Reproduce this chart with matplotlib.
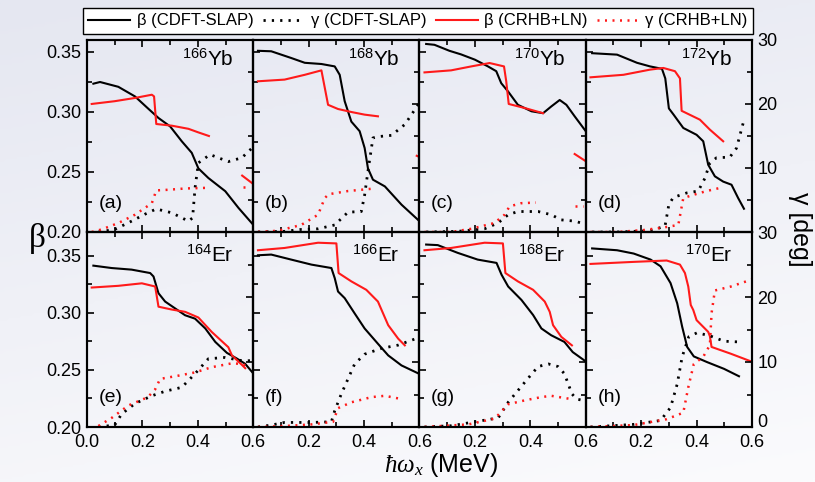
import numpy as np
import matplotlib
matplotlib.use('Agg')
import matplotlib.pyplot as plt
from matplotlib.ticker import MultipleLocator
from matplotlib.colors import LinearSegmentedColormap

plt.rcParams['font.family'] = ['Liberation Sans', 'DejaVu Sans']
plt.rcParams['mathtext.fontset'] = 'custom'
plt.rcParams['mathtext.rm'] = 'Liberation Sans'
plt.rcParams['mathtext.it'] = 'Liberation Serif:italic'

# (omega [MeV], value) pairs; beta on the left axis, gamma [deg] on the right axis
# --- 166Yb ---
yb166_b_slap = np.array([[0.023, 0.3236], [0.047, 0.325], [0.113, 0.321], [0.173, 0.313], [0.22, 0.303],
                         [0.258, 0.295], [0.30, 0.288], [0.342, 0.2756], [0.378, 0.266], [0.402, 0.253],
                         [0.438, 0.245], [0.499, 0.234], [0.547, 0.220], [0.60, 0.206]])
yb166_g_slap = np.array([[0.041, 0.0], [0.10, 0.4], [0.161, 1.7], [0.21, 2.8], [0.25, 3.6], [0.306, 3.0],
                         [0.366, 1.7], [0.381, 2.2], [0.39, 6.9], [0.402, 10.8], [0.444, 12.1], [0.51, 11.0],
                         [0.559, 11.6], [0.60, 13.3]])
yb166_b_ln = np.array([[0.017, 0.3067], [0.10, 0.309], [0.173, 0.3117], [0.234, 0.3144], [0.242, 0.313],
                       [0.25, 0.290], [0.306, 0.2886], [0.366, 0.286], [0.402, 0.283], [0.44, 0.280]])
yb166_g_ln = np.array([[0.017, 0.0], [0.053, 0.4], [0.113, 1.4], [0.173, 2.7], [0.234, 4.5], [0.25, 6.5],
                       [0.294, 6.6], [0.354, 6.8], [0.433, 6.9]])
yb166_b_ln2 = np.array([[0.56, 0.247], [0.60, 0.240]])
yb166_g_ln2 = np.array([[0.562, 7.0], [0.59, 7.0]])

# --- 168Yb ---
yb168_b_slap = np.array([[0.017, 0.351], [0.065, 0.3506], [0.137, 0.345], [0.186, 0.341], [0.246, 0.340],
                         [0.294, 0.338], [0.312, 0.331], [0.33, 0.309], [0.354, 0.292], [0.384, 0.284],
                         [0.402, 0.270], [0.414, 0.253], [0.432, 0.2436], [0.475, 0.238], [0.535, 0.2228],
                         [0.60, 0.209]])
yb168_g_slap = np.array([[0.017, 0.0], [0.113, 0.1], [0.173, 0.4], [0.234, 0.5], [0.294, 1.1], [0.342, 3.1],
                         [0.39, 3.2], [0.402, 5.8], [0.414, 9.5], [0.432, 14.7], [0.45, 14.9], [0.499, 15.1],
                         [0.547, 16.8], [0.60, 20.2]])
yb168_b_ln = np.array([[0.017, 0.3256], [0.113, 0.327], [0.186, 0.331], [0.246, 0.3347], [0.27, 0.306],
                       [0.306, 0.3025], [0.354, 0.300], [0.402, 0.2978], [0.45, 0.2964]])
yb168_g_ln = np.array([[0.017, 0.0], [0.09, 0.2], [0.173, 1.1], [0.234, 2.7], [0.258, 5.3], [0.272, 5.9],
                       [0.342, 6.4], [0.438, 6.8]])
yb168_b_ln2 = np.array([[0.59, 0.2635], [0.60, 0.2625]])

# --- 170Yb ---
yb170_b_slap = np.array([[0.024, 0.3567], [0.054, 0.356], [0.108, 0.351], [0.15, 0.348], [0.20, 0.3436],
                         [0.247, 0.338], [0.277, 0.334], [0.295, 0.324], [0.32, 0.317], [0.355, 0.306],
                         [0.404, 0.3006], [0.446, 0.299], [0.476, 0.3047], [0.506, 0.310], [0.53, 0.306],
                         [0.56, 0.2964], [0.60, 0.284]])
yb170_g_slap = np.array([[0.024, 0.0], [0.138, 0.1], [0.235, 0.5], [0.283, 1.4], [0.32, 2.7], [0.355, 3.2],
                         [0.428, 3.2], [0.476, 2.7], [0.51, 1.9], [0.56, 1.7], [0.60, 1.2]])
yb170_b_ln = np.array([[0.018, 0.333], [0.114, 0.3347], [0.187, 0.338], [0.253, 0.3408], [0.305, 0.338],
                       [0.313, 0.3256], [0.322, 0.3067], [0.38, 0.3033], [0.446, 0.299]])
yb170_g_ln = np.array([[0.018, 0.0], [0.114, 0.0], [0.187, 0.5], [0.27, 1.4], [0.307, 2.7], [0.325, 4.0],
                       [0.367, 4.5], [0.42, 4.6]])
yb170_b_ln2 = np.array([[0.56, 0.265], [0.60, 0.259]])
yb170_g_ln2 = np.array([[0.562, 4.1], [0.59, 4.1]])

# --- 172Yb ---
yb172_b_slap = np.array([[0.023, 0.349], [0.113, 0.3478], [0.185, 0.341], [0.232, 0.338], [0.275, 0.336],
                         [0.287, 0.328], [0.30, 0.303], [0.317, 0.2978], [0.352, 0.2867], [0.40, 0.281],
                         [0.424, 0.2756], [0.442, 0.256], [0.466, 0.2464], [0.496, 0.242], [0.526, 0.2394],
                         [0.55, 0.2283], [0.571, 0.2194]])
yb172_g_slap = np.array([[0.023, 0.0], [0.113, 0.0], [0.232, 0.2], [0.286, 0.9], [0.30, 4.3], [0.316, 5.4],
                         [0.364, 6.1], [0.406, 6.4], [0.43, 8.4], [0.448, 10.8], [0.472, 11.6], [0.52, 11.7],
                         [0.544, 13.1], [0.568, 17.0]])
yb172_b_ln = np.array([[0.017, 0.3289], [0.136, 0.331], [0.232, 0.3353], [0.28, 0.3367], [0.322, 0.334],
                       [0.34, 0.328], [0.346, 0.301], [0.412, 0.2936], [0.448, 0.2853], [0.496, 0.2756]])
yb172_g_ln = np.array([[0.017, 0.0], [0.113, 0.0], [0.208, 0.3], [0.28, 0.7], [0.334, 1.1], [0.343, 3.2],
                       [0.352, 5.3], [0.388, 5.8], [0.436, 6.4], [0.496, 7.0]])

# --- 164Er ---
er164_b_slap = np.array([[0.023, 0.3415], [0.089, 0.3394], [0.161, 0.338], [0.228, 0.335], [0.24, 0.332],
                         [0.258, 0.3173], [0.282, 0.310], [0.318, 0.304], [0.354, 0.298], [0.39, 0.295],
                         [0.427, 0.2864], [0.463, 0.2746], [0.505, 0.265], [0.541, 0.260], [0.571, 0.2554],
                         [0.60, 0.247]])
er164_g_slap = np.array([[0.041, 0.0], [0.10, 0.3], [0.125, 2.0], [0.173, 3.6], [0.234, 4.8], [0.282, 5.5],
                         [0.342, 6.1], [0.39, 8.2], [0.438, 10.5], [0.499, 10.7], [0.559, 10.2], [0.60, 10.2]])
er164_b_ln = np.array([[0.017, 0.3223], [0.113, 0.3238], [0.198, 0.326], [0.246, 0.3232], [0.258, 0.3055],
                       [0.306, 0.303], [0.354, 0.301], [0.402, 0.296], [0.45, 0.2834], [0.51, 0.270],
                       [0.523, 0.2628], [0.559, 0.2545], [0.571, 0.2516]])
er164_g_ln = np.array([[0.041, 0.15], [0.089, 1.4], [0.149, 3.3], [0.22, 4.6], [0.246, 5.8], [0.264, 7.4],
                       [0.33, 7.9], [0.39, 8.4], [0.45, 9.2], [0.523, 9.8], [0.559, 9.7], [0.583, 9.3]])

# --- 166Er ---
er166_b_slap = np.array([[0.017, 0.3506], [0.065, 0.3512], [0.137, 0.3468], [0.21, 0.3424], [0.282, 0.3394],
                         [0.294, 0.3306], [0.306, 0.3188], [0.33, 0.313], [0.366, 0.2996], [0.402, 0.2864],
                         [0.45, 0.273], [0.487, 0.2628], [0.535, 0.254], [0.60, 0.2465]])
er166_g_slap = np.array([[0.017, 0.0], [0.065, 0.3], [0.113, 0.7], [0.21, 0.7], [0.282, 0.8], [0.294, 2.5],
                         [0.318, 5.1], [0.342, 7.4], [0.366, 9.7], [0.402, 11.2], [0.463, 12.1], [0.523, 12.6],
                         [0.60, 13.8]])
er166_b_ln = np.array([[0.017, 0.355], [0.113, 0.357], [0.234, 0.3616], [0.30, 0.361], [0.308, 0.335],
                       [0.354, 0.3277], [0.408, 0.3203], [0.45, 0.310], [0.487, 0.2893], [0.523, 0.2775],
                       [0.547, 0.2716]])
er166_g_ln = np.array([[0.017, 0.0], [0.113, 0.15], [0.21, 0.4], [0.288, 0.8], [0.306, 2.9], [0.354, 3.8],
                       [0.427, 4.6], [0.475, 4.8], [0.535, 4.3]])

# --- 168Er ---
er168_b_slap = np.array([[0.024, 0.360], [0.066, 0.3595], [0.138, 0.3527], [0.21, 0.3468], [0.278, 0.3439],
                         [0.296, 0.3336], [0.32, 0.3232], [0.368, 0.3114], [0.41, 0.2982], [0.44, 0.2864],
                         [0.475, 0.2805], [0.523, 0.2746], [0.553, 0.2657], [0.60, 0.2575]])
er168_g_slap = np.array([[0.018, 0.0], [0.116, 0.2], [0.20, 0.8], [0.284, 1.4], [0.32, 3.8], [0.355, 5.6],
                         [0.39, 7.4], [0.428, 9.3], [0.465, 9.7], [0.50, 9.3], [0.523, 8.2], [0.55, 5.1],
                         [0.567, 4.3], [0.60, 4.0]])
er168_b_ln = np.array([[0.018, 0.355], [0.114, 0.357], [0.235, 0.3616], [0.301, 0.361], [0.31, 0.335],
                       [0.355, 0.3277], [0.41, 0.3203], [0.452, 0.310], [0.47, 0.301], [0.482, 0.2893],
                       [0.512, 0.279], [0.55, 0.2716]])
er168_g_ln = np.array([[0.018, 0.0], [0.176, 0.4], [0.272, 1.3], [0.32, 3.5], [0.38, 4.1], [0.44, 4.6],
                       [0.475, 4.8], [0.547, 4.3]])

# --- 170Er ---
er170_b_slap = np.array([[0.023, 0.3566], [0.113, 0.355], [0.173, 0.3521], [0.234, 0.3468], [0.27, 0.3409],
                         [0.306, 0.3262], [0.33, 0.3085], [0.348, 0.2879], [0.366, 0.2702], [0.39, 0.2619],
                         [0.438, 0.2569], [0.499, 0.251], [0.553, 0.2445]])
er170_g_slap = np.array([[0.017, 0.0], [0.173, 0.4], [0.27, 1.0], [0.306, 3.0], [0.33, 6.6], [0.348, 10.8],
                         [0.372, 13.9], [0.402, 14.5], [0.45, 14.0], [0.499, 13.2], [0.547, 13.1]])
er170_b_ln = np.array([[0.017, 0.343], [0.173, 0.3448], [0.292, 0.346], [0.34, 0.3424], [0.358, 0.335],
                       [0.37, 0.3232], [0.379, 0.307], [0.388, 0.3026], [0.40, 0.2937], [0.442, 0.2834],
                       [0.448, 0.2796], [0.454, 0.2702], [0.523, 0.2643], [0.60, 0.2572]])
er170_g_ln = np.array([[0.017, 0.0], [0.173, 0.3], [0.292, 1.2], [0.352, 2.2], [0.37, 6.1], [0.39, 9.7],
                       [0.424, 10.8], [0.448, 12.6], [0.454, 17.5], [0.466, 21.0], [0.523, 21.6],
                       [0.60, 22.7]])

panel_tags = ['(a)', '(b)', '(c)', '(d)', '(e)', '(f)', '(g)', '(h)']
nuclei = [('166', 'Yb'), ('168', 'Yb'), ('170', 'Yb'), ('172', 'Yb'),
          ('164', 'Er'), ('166', 'Er'), ('168', 'Er'), ('170', 'Er')]
beta_slap = [yb166_b_slap, yb168_b_slap, yb170_b_slap, yb172_b_slap,
             er164_b_slap, er166_b_slap, er168_b_slap, er170_b_slap]
gamma_slap = [yb166_g_slap, yb168_g_slap, yb170_g_slap, yb172_g_slap,
              er164_g_slap, er166_g_slap, er168_g_slap, er170_g_slap]
beta_ln = [[yb166_b_ln, yb166_b_ln2], [yb168_b_ln, yb168_b_ln2], [yb170_b_ln, yb170_b_ln2], [yb172_b_ln],
           [er164_b_ln], [er166_b_ln], [er168_b_ln], [er170_b_ln]]
gamma_ln = [[yb166_g_ln, yb166_g_ln2], [yb168_g_ln], [yb170_g_ln, yb170_g_ln2], [yb172_g_ln],
            [er164_g_ln], [er166_g_ln], [er168_g_ln], [er170_g_ln]]

red = '#ff1a1a'
dots = (0, (0.8, 2.2))

fig = plt.figure(figsize=(8.15, 4.82), dpi=100)

# soft bluish backdrop
bg = fig.add_axes([0, 0, 1, 1], zorder=-10)
cmap = LinearSegmentedColormap.from_list('bg', ['#e5e7f1', '#fbfbfd'])
yy, xx = np.mgrid[0:1:200j, 0:1:200j]
bg.imshow(0.75 * yy + 0.25 * xx, cmap=cmap, aspect='auto', extent=[0, 1, 0, 1], origin='upper')
bg.axis('off')

gs = fig.add_gridspec(2, 4, left=87 / 815, right=752 / 815, top=1 - 40 / 482, bottom=1 - 427 / 482,
                      wspace=0, hspace=0, height_ratios=[192, 195])

for k in range(8):
    row, col = divmod(k, 4)
    ax = fig.add_subplot(gs[row, col])
    ax.set_facecolor('none')
    tw = ax.twinx()

    ax.plot(beta_slap[k][:, 0], beta_slap[k][:, 1], color='black', lw=1.5)
    tw.plot(gamma_slap[k][:, 0], gamma_slap[k][:, 1], color='black', lw=2.0, ls=dots)
    for seg in beta_ln[k]:
        ax.plot(seg[:, 0], seg[:, 1], color=red, lw=1.5)
    for seg in gamma_ln[k]:
        tw.plot(seg[:, 0], seg[:, 1], color=red, lw=1.8, ls=dots)

    ax.set_xlim(0, 0.6)
    ax.set_ylim(0.20, 0.36 if row == 0 else 0.371)
    tw.set_ylim(0, 30)

    ax.set_xticks([0.0, 0.2, 0.4, 0.6])
    ax.xaxis.set_minor_locator(MultipleLocator(0.1))
    ax.set_yticks([0.20, 0.25, 0.30, 0.35])
    ax.yaxis.set_minor_locator(MultipleLocator(0.025))
    tw.set_yticks([0, 10, 20, 30])
    tw.yaxis.set_minor_locator(MultipleLocator(5))

    if row == 1:
        ax.set_xticklabels(['0.0' if col == 0 else '', '0.2', '0.4', '0.6'])
    else:
        ax.set_xticklabels([])
    if col == 0:
        ax.set_yticklabels(['0.20', '0.25', '0.30', '0.35'])
    else:
        ax.set_yticklabels([])
    if col == 3:
        tw.set_yticklabels(['' if row == 0 else '0', '10', '20', '30'])
        # lift the lowest gamma label a little so it clears the 0.6 below it
        tw.get_yticklabels()[0].set_va('baseline')
    else:
        tw.set_yticklabels([])

    ax.tick_params(which='both', direction='in', top=True, right=False, width=1.2,
                   labelsize=13, pad=4)
    ax.tick_params(axis='x', pad=5)
    ax.tick_params(which='major', length=5)
    ax.tick_params(which='minor', length=3.5)
    tw.tick_params(which='both', direction='in', width=1.2, labelsize=13, pad=4)
    tw.tick_params(which='major', length=5)
    tw.tick_params(which='minor', length=3.5)
    for sp in list(ax.spines.values()) + list(tw.spines.values()):
        sp.set_linewidth(1.5)

    mass, elem = nuclei[k]
    ax.text(0.88, 0.9 if row == 0 else 0.88, r'$^{%s}$%s' % (mass, elem), transform=ax.transAxes,
            ha='right', va='center', fontsize=15)
    ax.text(0.07, 0.15, panel_tags[k], transform=ax.transAxes, ha='left', va='center', fontsize=14)

handles = [plt.Line2D([], [], color='black', lw=1.5),
           plt.Line2D([], [], color='black', lw=2.0, ls=dots),
           plt.Line2D([], [], color=red, lw=1.5),
           plt.Line2D([], [], color=red, lw=1.8, ls=dots)]
labels = ['β (CDFT-SLAP)', 'γ (CDFT-SLAP)', 'β (CRHB+LN)', 'γ (CRHB+LN)']
leg = fig.legend(handles, labels, loc='center', ncol=4,
                 bbox_to_anchor=(418 / 815, 1 - 21 / 482),
                 fontsize=12, handlelength=2.5, handletextpad=0.4, columnspacing=0.55,
                 borderpad=0.35, borderaxespad=0, fancybox=False, framealpha=1, edgecolor='black')
leg.get_frame().set_linewidth(1.0)

fig.text(0.046, 0.505, 'β', fontsize=24, ha='center', va='center', family=['Liberation Serif', 'DejaVu Serif'])
fig.text(0.981, 0.525, 'γ [deg]', fontsize=18, rotation=-90, ha='center', va='center')
fig.text(0.541, 0.036, r'$\hbar\omega_{x}$ (MeV)', fontsize=18, ha='center', va='center')

fig.savefig('out.png', dpi=100)
